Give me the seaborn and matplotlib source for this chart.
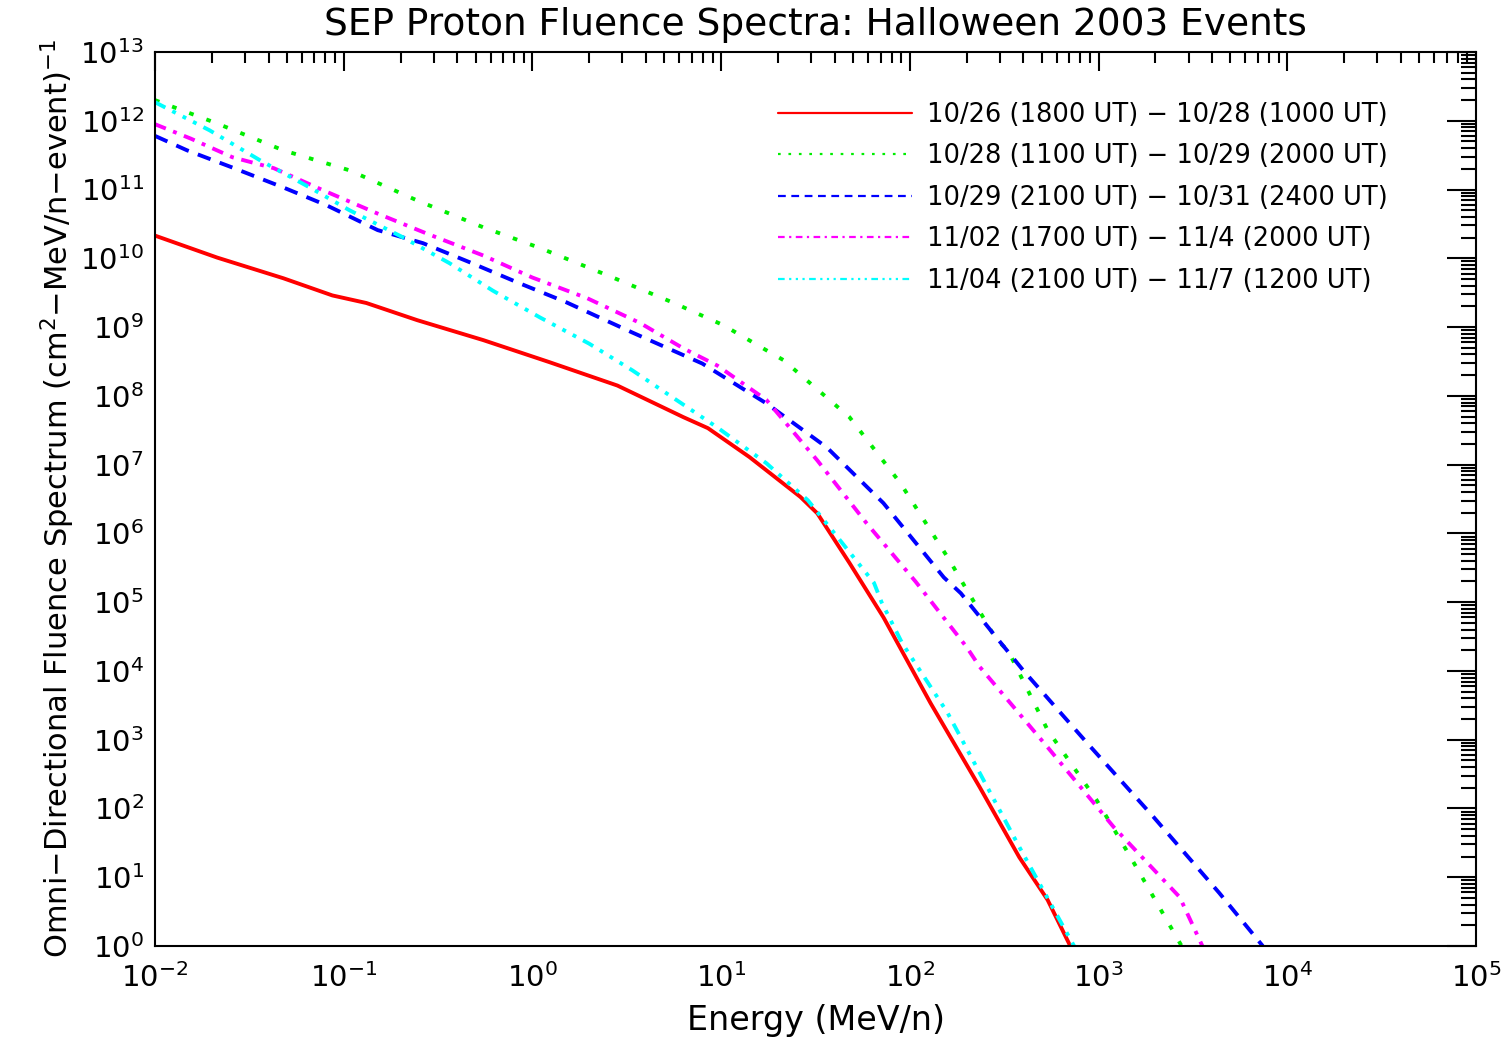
import numpy as np
import pandas as pd
import matplotlib
matplotlib.use("Agg")
import matplotlib.pyplot as plt
import matplotlib.ticker as mticker
import seaborn as sns

# ---------------- data ----------------
labels = [
    "10/26 (1800 UT) \u2212 10/28 (1000 UT)",
    "10/28 (1100 UT) \u2212 10/29 (2000 UT)",
    "10/29 (2100 UT) \u2212 10/31 (2400 UT)",
    "11/02 (1700 UT) \u2212 11/4 (2000 UT)",
    "11/04 (2100 UT) \u2212 11/7 (1200 UT)",
]

# log10(energy MeV/n), log10(fluence)
red_logE = [-2.0, -1.67, -1.32, -1.06, -0.88, -0.61, -0.26, 0.09, 0.45, 0.80, 0.93,
            1.15, 1.42, 1.51, 1.68, 1.86, 2.11, 2.37, 2.58, 2.73, 2.85]
red_logF = [10.33, 10.01, 9.71, 9.46, 9.35, 9.10, 8.81, 8.49, 8.15, 7.69, 7.53,
            7.11, 6.53, 6.29, 5.57, 4.78, 3.53, 2.31, 1.29, 0.67, 0.0]

green_logE = [-2.0, -1.67, -1.32, -0.97, -0.61, -0.26, 0.04, 0.40, 0.75, 1.01, 1.21,
              1.33, 1.68, 1.95, 2.21, 2.28, 2.46, 2.52, 2.73, 2.99, 3.17, 3.44]
green_logF = [12.30, 11.96, 11.57, 11.28, 10.84, 10.45, 10.15, 9.75, 9.35, 9.03, 8.71,
              8.52, 7.69, 6.73, 5.61, 5.28, 4.45, 4.30, 3.14, 2.12, 1.29, 0.0]

blue_logE = [-2.0, -1.83, -1.59, -1.32, -1.09, -0.82, -0.58, -0.33, -0.08, 0.18, 0.53,
             0.90, 1.24, 1.56, 1.86, 2.18, 2.27, 2.44, 2.60, 2.94, 3.29, 3.64, 3.87]
blue_logF = [11.78, 11.57, 11.32, 11.03, 10.77, 10.41, 10.22, 9.94, 9.65, 9.36, 8.92,
             8.47, 7.89, 7.25, 6.44, 5.36, 5.13, 4.55, 4.01, 2.95, 1.88, 0.77, 0.0]

magenta_logE = [-2.0, -1.81, -1.59, -1.37, -1.11, -0.82, -0.56, -0.26, 0.0, 0.29, 0.57,
                0.80, 0.98, 1.24, 1.51, 1.77, 2.03, 2.30, 2.37, 2.73, 3.08, 3.43, 3.55]
magenta_logF = [11.95, 11.74, 11.47, 11.31, 10.99, 10.65, 10.36, 10.04, 9.72, 9.42, 9.06,
                8.69, 8.44, 7.94, 7.06, 6.15, 5.30, 4.35, 4.06, 2.89, 1.73, 0.71, 0.0]

cyan_logE = [-2.0, -1.71, -1.44, -1.18, -0.97, -0.69, -0.44, -0.21, 0.04, 0.30, 0.53,
             0.98, 1.24, 1.46, 1.63, 1.81, 1.85, 1.96, 2.20, 2.58, 2.87]
cyan_logF = [12.27, 11.86, 11.42, 11.03, 10.70, 10.31, 9.93, 9.53, 9.14, 8.76, 8.37,
             7.54, 7.02, 6.48, 5.90, 5.28, 5.00, 4.40, 3.39, 1.44, 0.0]

series = [
    (red_logE, red_logF),
    (green_logE, green_logF),
    (blue_logE, blue_logF),
    (magenta_logE, magenta_logF),
    (cyan_logE, cyan_logF),
]

title = "SEP Proton Fluence Spectra: Halloween 2003 Events"
xlabel = "Energy (MeV/n)"
ylabel = "Omni\u2212Directional Fluence Spectrum (cm$^2$\u2212MeV/n\u2212event)$^{-1}$"

# ---------------- styling ----------------
colors = ["#ff0000", "#00ee00", "#0000ff", "#ff00ff", "#00ffff"]
styles = ["-", (0, (1.2, 3.5)), (0, (3.5, 2.5)), (0, (3, 2, 1, 2)),
          (0, (3, 2, 1, 2, 1, 2, 1, 2))]

sns.set_theme(style="white")
plt.rcParams["font.family"] = ["DejaVu Sans"]
plt.rcParams["mathtext.fontset"] = "dejavusans"

fig = plt.figure(figsize=(15.12, 10.39), dpi=100)
ax = fig.add_axes([155 / 1512, 1 - 946 / 1039, (1476 - 155) / 1512, (946 - 52) / 1039])

for (lx, ly), c, ls, lab in zip(series, colors, styles, labels):
    df = pd.DataFrame({"energy": np.power(10.0, lx), "flux": np.power(10.0, ly)})
    sns.lineplot(data=df, x="energy", y="flux", ax=ax, color=c, linewidth=2.8,
                 linestyle=ls, label=lab, estimator=None, sort=False)

ax.set_xscale("log")
ax.set_yscale("log")
ax.set_xlim(1e-2, 1e5)
ax.set_ylim(1e0, 1e13)

ax.xaxis.set_major_locator(mticker.LogLocator(base=10, numticks=20))
ax.yaxis.set_major_locator(mticker.LogLocator(base=10, numticks=20))
ax.xaxis.set_minor_locator(mticker.LogLocator(base=10, subs=np.arange(2, 10), numticks=20))
ax.yaxis.set_minor_locator(mticker.LogLocator(base=10, subs=np.arange(2, 10), numticks=20))
ax.xaxis.set_minor_formatter(mticker.NullFormatter())
ax.yaxis.set_minor_formatter(mticker.NullFormatter())

ax.tick_params(which="both", direction="in", top=True, right=True, color="black",
               width=1.5, labelsize=21, labelcolor="black")
ax.tick_params(axis="x", which="major", length=14, pad=12)
ax.tick_params(axis="x", which="minor", length=8)
ax.tick_params(axis="y", which="major", length=21, pad=8)
ax.tick_params(axis="y", which="minor", length=11)

for sp in ax.spines.values():
    sp.set_color("black")
    sp.set_linewidth(1.5)

ax.set_xlabel(xlabel, fontsize=24, labelpad=8, color="black")
ax.set_ylabel(ylabel, fontsize=22, labelpad=2, color="black")
fig.text(815 / 1512, 1 - 25 / 1039, title, fontsize=27, ha="center", va="center",
         color="black")

leg = ax.legend(loc="upper left", bbox_to_anchor=(778 / 1512, 1 - 102 / 1039),
                bbox_transform=fig.transFigure, frameon=False, fontsize=18.5,
                handlelength=5.2, handletextpad=0.6, labelspacing=0.6,
                borderpad=0, borderaxespad=0)
for h in leg.get_lines():
    h.set_linewidth(1.6)
for t in leg.get_texts():
    t.set_color("black")

fig.savefig("out.png", dpi=100, facecolor="white")
